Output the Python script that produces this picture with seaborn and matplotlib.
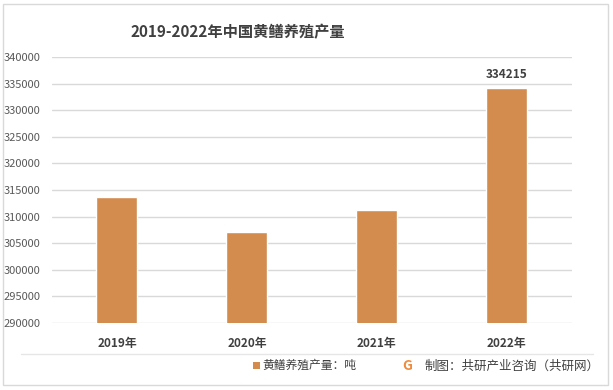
import pandas as pd
import seaborn as sns
import matplotlib.pyplot as plt
from matplotlib.lines import Line2D
from matplotlib.patches import Rectangle

# data
years = ["2019年", "2020年", "2021年", "2022年"]
output = [313700, 307100, 311250, 334215]
y_ticks = list(range(290000, 340001, 5000))

df = pd.DataFrame({"year": years, "output": output})

sns.set_theme(style="white")
plt.rcParams["font.family"] = ["Noto Sans CJK SC", "DejaVu Sans"]

fig = plt.figure(figsize=(6.13, 3.9), dpi=100)
ax = fig.add_axes([0.0848, 0.1718, 0.848, 0.682])

sns.barplot(data=df, x="year", y="output", color="#D38B4E", width=0.315,
            saturation=1, ax=ax, zorder=3)

ax.set_ylim(290000, 340000)
ax.set_yticks(y_ticks)
ax.set_yticklabels([str(v) for v in y_ticks], fontsize=8, color="#595959")
ax.yaxis.grid(True, color="#D9D9D9", linewidth=1, zorder=0)
ax.set_xlabel("")
ax.set_ylabel("")
for s in ax.spines.values():
    s.set_visible(False)
ax.tick_params(axis="x", length=0, pad=10)
ax.tick_params(axis="y", length=0, pad=8)
for lbl in ax.get_xticklabels():
    lbl.set_fontsize(8.5)
    lbl.set_fontweight("bold")
    lbl.set_color("#404040")

# value label on the last bar
ax.text(3, output[3] + 1200, str(output[3]), ha="center", va="bottom",
        fontsize=8.5, color="#404040", fontweight="bold")

fig.text(0.388, 0.918, "2019-2022年中国黄鳝养殖产量", ha="center", va="center",
         fontsize=11, fontweight="bold", color="#404040")

# frame and separator
fig.add_artist(Rectangle((0.005, 0.013), 0.987, 0.977, transform=fig.transFigure,
                         fill=False, edgecolor="#D9D9D9", linewidth=1))
fig.add_artist(Line2D([0.034, 0.968], [0.092, 0.092], transform=fig.transFigure,
                      color="#E6E6E6", linewidth=1))

# legend and source
fig.add_artist(Rectangle((0.413, 0.054), 0.011, 0.018, transform=fig.transFigure,
                         facecolor="#D38B4E", edgecolor="none"))
fig.text(0.428, 0.063, "黄鳝养殖产量：吨", ha="left", va="center",
         fontsize=8.5, color="#404040")
fig.text(0.665, 0.061, "G", ha="center", va="center", fontsize=10,
         fontweight="bold", color="#F08A3C")
fig.text(0.692, 0.061, "制图：共研产业咨询（共研网）", ha="left", va="center",
         fontsize=9, color="#404040")

fig.savefig("out.png", dpi=100)
